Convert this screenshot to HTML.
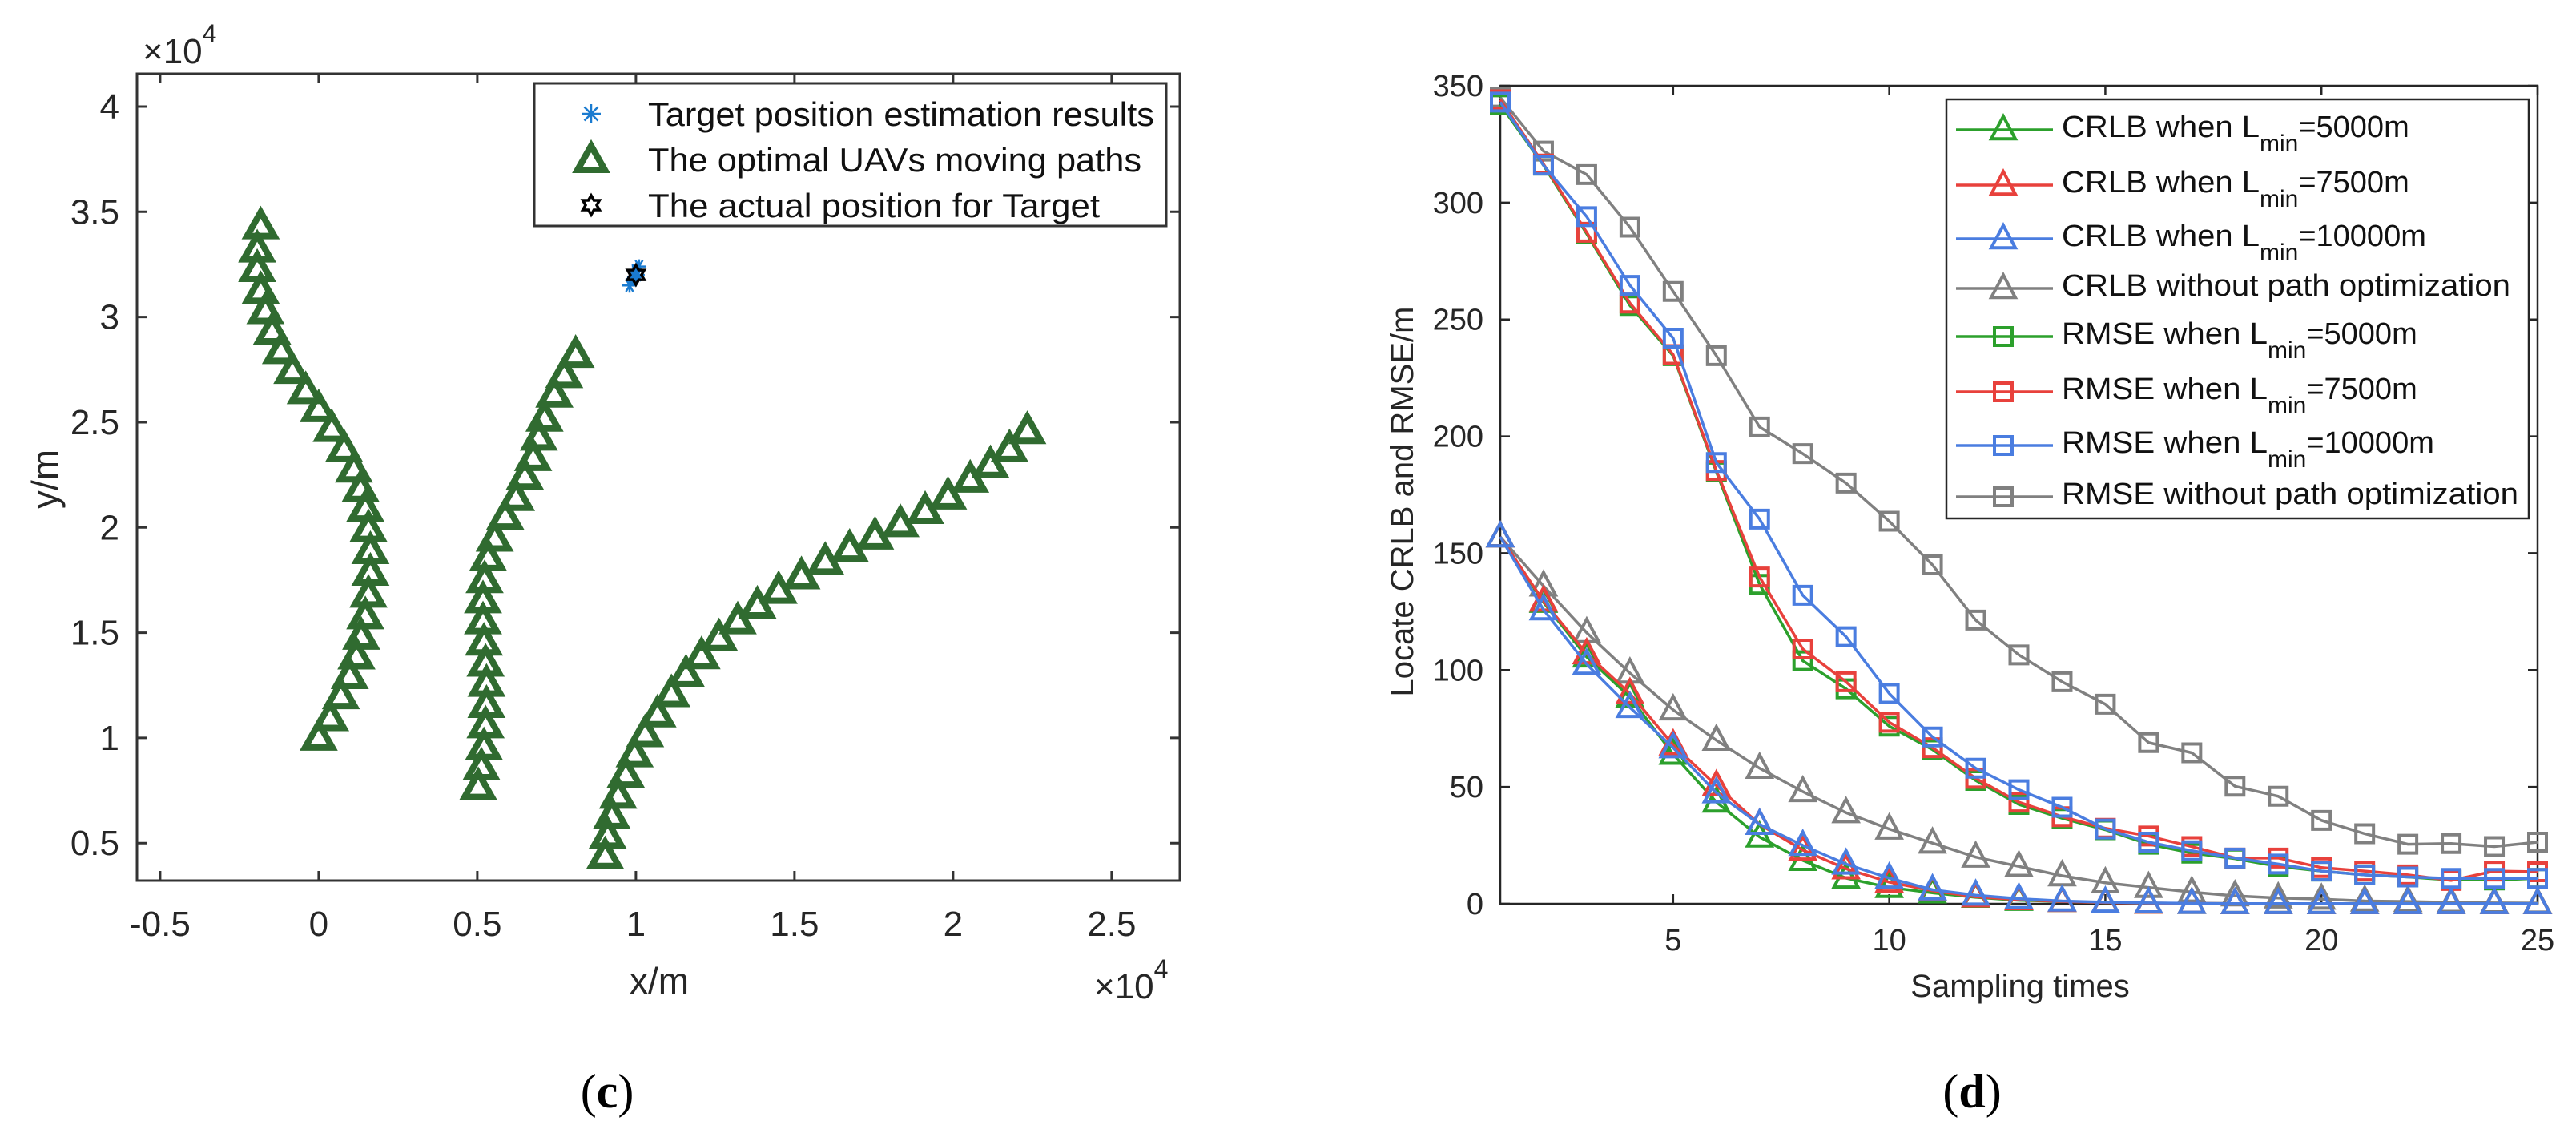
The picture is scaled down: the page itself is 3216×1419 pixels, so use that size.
<!DOCTYPE html>
<html><head><meta charset="utf-8"><style>
html,body{margin:0;padding:0;background:#fff;}
svg{display:block;font-family:"Liberation Sans",Arial,sans-serif;}
</style></head><body>
<svg id="fig" width="3216" height="1419" viewBox="0 0 3216 1419" xmlns="http://www.w3.org/2000/svg">
<g id="left"></g>
<g id="right"></g>
</svg>
<script>
// ---------- Left chart data (units of 1e4 m) ----------
const path1X = [0,0.036,0.070,0.098,0.119,0.134,0.147,0.157,0.163,0.163,0.157,0.147,0.132,0.111,0.080,0.041,0,-0.041,-0.083,-0.119,-0.147,-0.168,-0.183,-0.194,-0.194,-0.183];
const path1Y = [1.0,1.093,1.197,1.293,1.386,1.480,1.577,1.680,1.784,1.887,1.991,2.088,2.181,2.274,2.371,2.467,2.561,2.647,2.743,2.837,2.930,3.027,3.123,3.227,3.320,3.430];
const path2X = [0.503,0.513,0.521,0.526,0.529,0.529,0.526,0.521,0.518,0.518,0.523,0.534,0.555,0.588,0.622,0.650,0.676,0.694,0.712,0.743,0.774,0.810];
const path2Y = [0.765,0.859,0.955,1.059,1.156,1.256,1.352,1.452,1.553,1.653,1.749,1.853,1.946,2.050,2.139,2.240,2.329,2.426,2.516,2.630,2.723,2.819];
const path3X = [0.903,0.911,0.924,0.944,0.968,0.996,1.029,1.068,1.112,1.158,1.207,1.262,1.321,1.383,1.450,1.522,1.597,1.674,1.754,1.834,1.912,1.984,2.054,2.118,2.178,2.234];
const path3Y = [0.437,0.534,0.627,0.724,0.824,0.921,1.017,1.111,1.207,1.301,1.387,1.473,1.553,1.628,1.698,1.767,1.836,1.898,1.956,2.015,2.077,2.146,2.226,2.295,2.371,2.457];
const estX = [0.98,1.0,1.01,0.99,1.005,0.995];
const estY = [3.15,3.22,3.24,3.18,3.20,3.19];
const targetX = [1.0];
const targetY = [3.2];
const leftXTicks = [-0.5,0,0.5,1,1.5,2,2.5];
const leftXTickLabels = ["-0.5","0","0.5","1","1.5","2","2.5"];
const leftYTicks = [0.5,1,1.5,2,2.5,3,3.5,4];
const leftYTickLabels = ["0.5","1","1.5","2","2.5","3","3.5","4"];

// ---------- Right chart data ----------
const samples = [1,2,3,4,5,6,7,8,9,10,11,12,13,14,15,16,17,18,19,20,21,22,23,24,25];
const crlb5000 = [157,129,105.6,88.5,64,43.5,28.6,18.6,11,7,4.7,2.8,1.5,1.0,0.5,0.3,0.2,0.1,0.1,0.1,0.1,0.1,0.1,0.1,0.1];
const crlb7500 = [157,129.5,107,90,68,50.6,34,23,15,9.3,5.6,3,1.8,1,0.5,0.3,0.2,0.1,0.1,0.1,0.1,0.1,0.1,0.1,0.1];
const crlb10000 = [157,125.8,102.5,84,66.8,47.5,34,25,17,11,6,3.7,2.2,1.2,0.7,0.4,0.2,0.1,0.1,0.1,0.1,0.1,0.1,0.1,0.1];
const crlbNoOpt = [157,136,116,98.7,83,70,58,48,39,32,26,20,16,12,9,7,5,3.4,2.5,2,1.2,1,0.6,0.4,0.3];
const rmse5000 = [342,316,286.7,256,234.5,184.8,136.7,104,92,76,66,52.8,42.5,36.6,31.7,25.5,21.7,19.3,16,14,12.4,11.5,10.2,10.2,10.9];
const rmse7500 = [344,316.5,287.3,257,235,185.4,139.8,109,95,77.7,66.8,53.7,43.5,37.3,32.3,29,24.5,19.6,19.6,15.5,14,12.4,10,14,13.7];
const rmse10000 = [343,316,294,264.6,242,188.8,164.6,132,114.3,90,71.4,58,48.8,41.3,32,26.4,22.7,19.6,17,14,12.4,11.5,10.9,10.9,10.9];
const rmseNoOpt = [345,322,312,289.5,262,234.5,204,192.6,180,163.7,145,121.4,106.5,95,85.4,69,64.6,50.3,46,35.7,30,25.5,25.8,24.5,26.4];
const rightXTicks = [5,10,15,20,25];
const rightXTickLabels = ["5","10","15","20","25"];
const rightYTicks = [0,50,100,150,200,250,300,350];
const rightYTickLabels = ["0","50","100","150","200","250","300","350"];

const NS = "http://www.w3.org/2000/svg";
function mk(parent, tag, attrs, text){
  const e = document.createElementNS(NS, tag);
  for (const k in attrs) e.setAttribute(k, attrs[k]);
  if (text !== undefined) e.textContent = text;
  parent.appendChild(e);
  return e;
}
function triD(cx,cy,w,h){return `M${cx},${cy-h*0.6}L${cx+w/2},${cy+h*0.4}L${cx-w/2},${cy+h*0.4}Z`;}

// ---------- LEFT CHART ----------
(function(){
  const g = document.getElementById('left');
  const L=171,R=1473,T=92,B=1099;
  const xmin=-0.573,xmax=2.715,ymin=0.322,ymax=4.156;
  const sx = v => L + (v-xmin)/(xmax-xmin)*(R-L);
  const sy = v => B - (v-ymin)/(ymax-ymin)*(B-T);
  const box = mk(g,'rect',{x:L,y:T,width:R-L,height:B-T,fill:'none',stroke:'#333',"stroke-width":3});
  
  
  leftXTicks.forEach((t,i)=>{
    const x=sx(t);
    const tk=mk(g,'path',{d:`M${x},${B}v-12M${x},${T}v12`,stroke:'#333',"stroke-width":3});
    
    
    const lb=mk(g,'text',{x:x,y:1168,"font-size":44,fill:'#262626',"text-anchor":'middle'},leftXTickLabels[i]);
    
    
  });
  leftYTicks.forEach((t,i)=>{
    const y=sy(t);
    const tk=mk(g,'path',{d:`M${L},${y}h12M${R},${y}h-12`,stroke:'#333',"stroke-width":3});
    
    
    const lb=mk(g,'text',{x:149,y:y+15,"font-size":44,fill:'#262626',"text-anchor":'end'},leftYTickLabels[i]);
    
    
  });
  const e1=mk(g,'text',{x:178,y:79,"font-size":44,fill:'#262626'});
  
  
  mk(e1,'tspan',{},'\u00d710');
  mk(e1,'tspan',{dy:-26,"font-size":32},'4');
  const e2=mk(g,'text',{x:1366,y:1246,"font-size":44,fill:'#262626'});
  
  
  mk(e2,'tspan',{},'\u00d710');
  mk(e2,'tspan',{dy:-26,"font-size":32},'4');
  const xt=mk(g,'text',{x:823,y:1240,"font-size":46,fill:'#262626',"text-anchor":'middle'},'x/m');
  
  
  const yt=mk(g,'text',{x:0,y:0,"font-size":46,fill:'#262626',"text-anchor":'middle',transform:'translate(72,598) rotate(-90)'},'y/m');
  
  
  const cap=mk(g,'text',{x:758,y:1382,"font-size":60,fill:'#000',"text-anchor":'middle',"font-family":'"Liberation Serif",serif'},'(');
  
  
  mk(cap,'tspan',{"font-weight":'bold'},'c');
  mk(cap,'tspan',{},')');

  [[path1X,path1Y,'path-1'],[path2X,path2Y,'path-2'],[path3X,path3Y,'path-3']].forEach(([xs,ys,nm])=>{
    const pg=mk(g,'g',{});
    
    
    xs.forEach((v,i)=>{
      const p=mk(pg,'path',{d:triD(sx(v),sy(ys[i]),34,30),fill:'none',stroke:'#306b30',"stroke-width":8,"stroke-linejoin":'miter'});
      
      
    });
  });
  function star(cx,cy,r,col,w){ let d=''; for(let k=0;k<3;k++){const a=k*Math.PI/3; d+=`M${cx-r*Math.cos(a)},${cy-r*Math.sin(a)}L${cx+r*Math.cos(a)},${cy+r*Math.sin(a)}`;} return mk(g,'path',{d:d+`M${cx},${cy-r}L${cx},${cy+r}`,stroke:col,"stroke-width":w}); }
  estX.forEach((v,i)=>{
    const s=star(sx(v),sy(estY[i]),9,'#1a7bd0',2.5);
    
    
  });
  function hexa(cx,cy,r){ const p=[]; for(let k=0;k<12;k++){const a=-Math.PI/2+k*Math.PI/6; const rr=k%2?r*0.58:r; p.push((cx+rr*Math.cos(a))+','+(cy+rr*Math.sin(a)));} return 'M'+p.join('L')+'Z'; }
  targetX.forEach((v,i)=>{
    const h=mk(g,'path',{d:hexa(sx(v),sy(targetY[i]),12),fill:'none',stroke:'#000',"stroke-width":3.5});
    
    
  });
  const lg=mk(g,'g',{});
  
  
  mk(lg,'rect',{x:667,y:104,width:789,height:178,fill:'#fff',stroke:'#333',"stroke-width":3});
  const s1=mk(lg,'path',{d:'',stroke:'#1a7bd0',"stroke-width":2.5});
  {const cx=738,cy=142,r=12; let d=''; for(let k=0;k<4;k++){const a=k*Math.PI/4; d+=`M${cx-r*Math.cos(a)},${cy-r*Math.sin(a)}L${cx+r*Math.cos(a)},${cy+r*Math.sin(a)}`;} s1.setAttribute('d',d);}
  mk(lg,'path',{d:triD(738,200,34,30),fill:'none',stroke:'#306b30',"stroke-width":8});
  mk(lg,'path',{d:hexa(738,256,12),fill:'none',stroke:'#000',"stroke-width":3.5});
  const labs=['Target position estimation results','The optimal UAVs moving paths','The actual position for Target'];
  const lens=[632,616,564];
  labs.forEach((t,i)=>{
    const e=mk(lg,'text',{x:809,y:157+i*57,"font-size":42,fill:'#111',textLength:lens[i],lengthAdjust:'spacingAndGlyphs'},t);
    
    
  });
})();

// ---------- RIGHT CHART ----------
(function(){
  const g=document.getElementById('right');
  const L=1873,R=3168,T=107,B=1128;
  const xmin=1,xmax=25,ymin=0,ymax=350;
  const sx=v=>L+(v-xmin)/(xmax-xmin)*(R-L);
  const sy=v=>B-(v-ymin)/(ymax-ymin)*(B-T);
  const box=mk(g,'rect',{x:L,y:T,width:R-L,height:B-T,fill:'none',stroke:'#262626',"stroke-width":2.5});
  
  
  rightXTicks.forEach((t,i)=>{
    const x=sx(t);
    const tk=mk(g,'path',{d:`M${x},${B}v-12M${x},${T}v12`,stroke:'#262626',"stroke-width":2.5});
    
    
    const lb=mk(g,'text',{x:x,y:1186,"font-size":38,fill:'#262626',"text-anchor":'middle'},rightXTickLabels[i]);
    
    
  });
  rightYTicks.forEach((t,i)=>{
    const y=sy(t);
    const tk=mk(g,'path',{d:`M${L},${y}h12M${R},${y}h-12`,stroke:'#262626',"stroke-width":2.5});
    
    
    const lb=mk(g,'text',{x:1852,y:y+13,"font-size":38,fill:'#262626',"text-anchor":'end'},rightYTickLabels[i]);
    
    
  });
  const xt=mk(g,'text',{x:2522,y:1244,"font-size":40,fill:'#262626',"text-anchor":'middle'},'Sampling times');
  
  
  const yt=mk(g,'text',{x:0,y:0,"font-size":40,fill:'#262626',"text-anchor":'middle',transform:'translate(1764,626) rotate(-90)'},'Locate CRLB and RMSE/m');
  
  
  const cap=mk(g,'text',{x:2462,y:1382,"font-size":60,fill:'#000',"text-anchor":'middle',"font-family":'"Liberation Serif",serif'},'(');
  
  
  mk(cap,'tspan',{"font-weight":'bold'},'d');
  mk(cap,'tspan',{},')');

  const G='#2ca02c',Rd='#e8413c',Bl='#4a7de0',Gy='#808080';
  function sqD(cx,cy,s){return `M${cx-s/2},${cy-s/2}h${s}v${s}h${-s}Z`;}
  const series=[
    [rmseNoOpt,Gy,'sq','rmse-no-optimization'],
    [crlbNoOpt,Gy,'tri','crlb-no-optimization'],
    [rmse5000,G,'sq','rmse-5000'],
    [crlb5000,G,'tri','crlb-5000'],
    [rmse7500,Rd,'sq','rmse-7500'],
    [crlb7500,Rd,'tri','crlb-7500'],
    [rmse10000,Bl,'sq','rmse-10000'],
    [crlb10000,Bl,'tri','crlb-10000']
  ];
  series.forEach(([vals,col,mark,nm])=>{
    const sg=mk(g,'g',{});
    
    
    const pts=vals.map((v,i)=>sx(samples[i])+','+sy(v)).join(' ');
    const pl=mk(sg,'polyline',{points:pts,fill:'none',stroke:col,"stroke-width":3.5});
    
    
    vals.forEach((v,i)=>{
      const d=mark==='sq'?sqD(sx(samples[i]),sy(v),22):triD(sx(samples[i]),sy(v),30,28);
      const m=mk(sg,'path',{d:d,fill:'none',stroke:col,"stroke-width":4});
      
      
    });
  });
  const lg=mk(g,'g',{});
  
  
  mk(lg,'rect',{x:2430,y:124,width:727,height:523,fill:'#fff',stroke:'#262626',"stroke-width":2.5});
  const entries=[
    ['CRLB when L','=5000m',G,'tri',162],
    ['CRLB when L','=7500m',Rd,'tri',231],
    ['CRLB when L','=10000m',Bl,'tri',298],
    ['CRLB without path optimization','',Gy,'tri',360],
    ['RMSE when L','=5000m',G,'sq',420],
    ['RMSE when L','=7500m',Rd,'sq',489],
    ['RMSE when L','=10000m',Bl,'sq',556],
    ['RMSE without path optimization','',Gy,'sq',620]
  ];
  entries.forEach(([a,b,col,mark,y])=>{
    const eg=mk(lg,'g',{});
    
    
    mk(eg,'line',{x1:2442,x2:2563,y1:y,y2:y,stroke:col,"stroke-width":3.5});
    mk(eg,'path',{d:mark==='sq'?sqD(2501,y,22):triD(2501,y,30,28),fill:'none',stroke:col,"stroke-width":4});
    const t=mk(eg,'text',{x:2574,y:y+9,"font-size":38,fill:'#111'});
    if(b){
      mk(t,'tspan',{textLength:a.startsWith('CRLB')?247:257,lengthAdjust:'spacingAndGlyphs'},a);
      mk(t,'tspan',{dy:18,"font-size":30},'min');
      mk(t,'tspan',{dy:-18},b);
    } else {
      t.setAttribute('textLength', a.startsWith('CRLB')?560:570);
      t.setAttribute('lengthAdjust','spacingAndGlyphs');
      t.textContent=a;
    }
  });
})();
</script>
</body></html>
